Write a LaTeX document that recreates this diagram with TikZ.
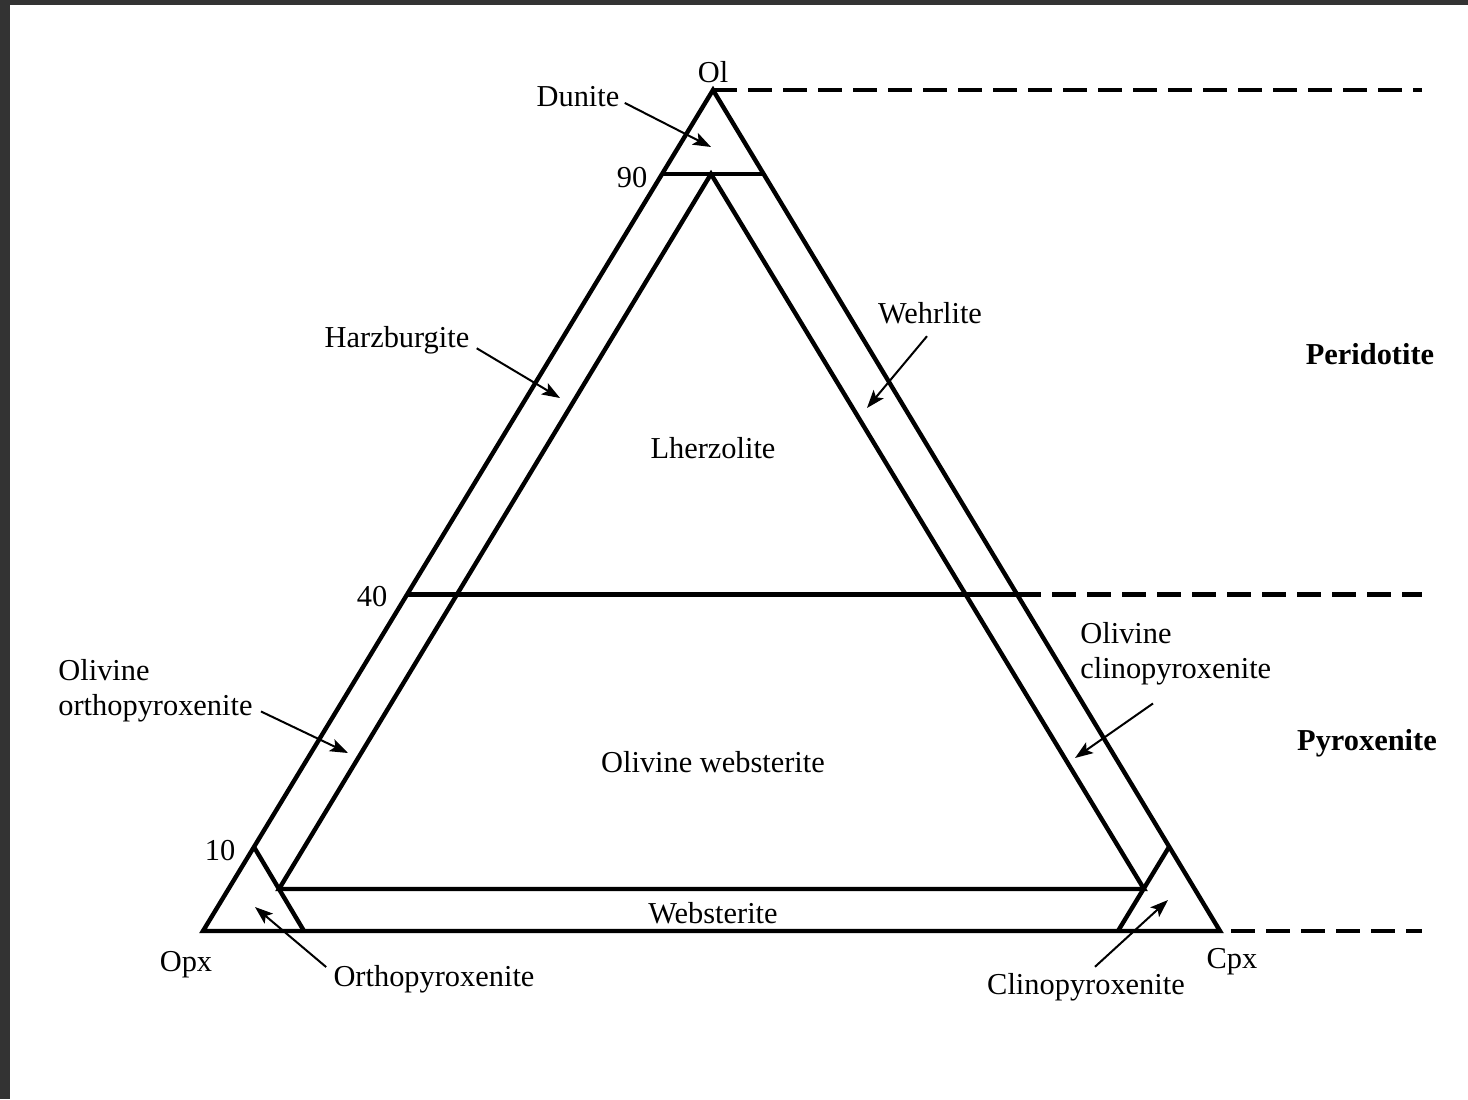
\documentclass[tikz,border=0pt]{standalone}
\usepackage{fontspec}
\setmainfont{Liberation Serif}
\usetikzlibrary{arrows.meta}
\definecolor{frame}{HTML}{333333}
\begin{document}
\begin{tikzpicture}[x=0.5pt,y=-0.5pt,
  triline/.style={line width=2.2pt, line join=miter},
  dashline/.style={line width=2.2pt, dash pattern=on 12pt off 5.5pt},
  lbl/.style={inner sep=0pt, font=\fontsize{15.2}{17.5}\selectfont},
  grouplbl/.style={inner sep=0pt, font=\fontsize{15.2}{17.5}\selectfont\bfseries},
  arr/.style={line width=1pt, -{Stealth[length=9pt,width=6.5pt,inset=2pt]}}]
\useasboundingbox (0,0) rectangle (1468,1099);
\fill[white] (0,0) rectangle (1468,1099);
\fill[frame] (0,0) rectangle (10,1099);
\fill[frame] (0,0) rectangle (1468,5);

% corners of the ternary
\coordinate (Ol) at (713,90);
\coordinate (Opx) at (203,931);
\coordinate (Cpx) at (1220,931);
% inner triangle (5 % lines)
\coordinate (iA) at (711,174);
\coordinate (iB) at (279,889);
\coordinate (iC) at (1144,889);
% 90 and 40 lines
\coordinate (n1) at (663,174);
\coordinate (n2) at (763,174);
\coordinate (f1) at (407,594.6);
\coordinate (f2) at (1017,594.6);
% 10 corner lines
\coordinate (t1) at (254,847);
\coordinate (t2) at (304,931);
\coordinate (t3) at (1169,847);
\coordinate (t4) at (1118,931);
% dashed line ends
\coordinate (dA) at (1422,90);
\coordinate (dB) at (1422,594.6);
\coordinate (dC) at (1422,931);

\draw[triline] (Ol) -- (Opx) -- (Cpx) -- cycle;
\draw[triline] (iA) -- (iB) -- (iC) -- cycle;
\draw[triline] (n1) -- (n2);
\draw[triline] (f1) -- (f2);
\draw[triline] (t1) -- (t2);
\draw[triline] (t3) -- (t4);
\draw[dashline] (Ol) -- (dA);
\draw[dashline] (f2) -- (dB);
\draw[dashline, dash phase=12pt] (Cpx) -- (dC);

% labels
\node[lbl] (olL) at (713,72) {Ol};
\node[lbl] (dun) at (578,97) {Dunite};
\node[lbl] (n90) at (632,178) {90};
\node[lbl] (harz) at (397,340) {Harzburgite};
\node[lbl] (wehr) at (930,313) {Wehrlite};
\node[grouplbl] (perid) at (1370,354) {Peridotite};
\node[lbl] (lherz) at (713,448) {Lherzolite};
\node[lbl] (n40) at (372,597) {40};
\node[lbl, align=left, anchor=north west] (olcpx) at (1080,622) {Olivine\\clinopyroxenite};
\node[grouplbl] (pyrox) at (1367,743) {Pyroxenite};
\node[lbl, align=left, anchor=north west] (olopx) at (58,659) {Olivine\\orthopyroxenite};
\node[lbl] (olweb) at (713,762) {Olivine websterite};
\node[lbl] (n10) at (220,851) {10};
\node[lbl] (webst) at (713,913) {Websterite};
\node[lbl] (opxL) at (186,965) {Opx};
\node[lbl] (orthop) at (434,979) {Orthopyroxenite};
\node[lbl] (clinop) at (1086,987) {Clinopyroxenite};
\node[lbl] (cpxL) at (1232,962) {Cpx};

% arrow tips
\coordinate (dunT) at (711,147);
\coordinate (harzT) at (560,398);
\coordinate (wehrT) at (867,408);
\coordinate (oopxT) at (348,753);
\coordinate (ocpxT) at (1075,758);
\coordinate (orthT) at (255,907);
\coordinate (clinT) at (1168,900);

\draw[arr] ([shift={(5,-4)}]dun.base east) -- (dunT);
\draw[arr] ([shift={(7,1)}]harz.base east) -- (harzT);
\draw[arr] ([shift={(-3,12)}]wehr.south) -- (wehrT);
\draw[arr] ([shift={(8,-11)}]olopx.south east) -- (oopxT);
\draw[arr] ([shift={(73,18)}]olcpx.south west) -- (ocpxT);
\draw[arr] ([shift={(-7,-12)}]orthop.west) -- (orthT);
\draw[arr] ([shift={(9,-6)}]clinop.north) -- (clinT);
\end{tikzpicture}
\end{document}
